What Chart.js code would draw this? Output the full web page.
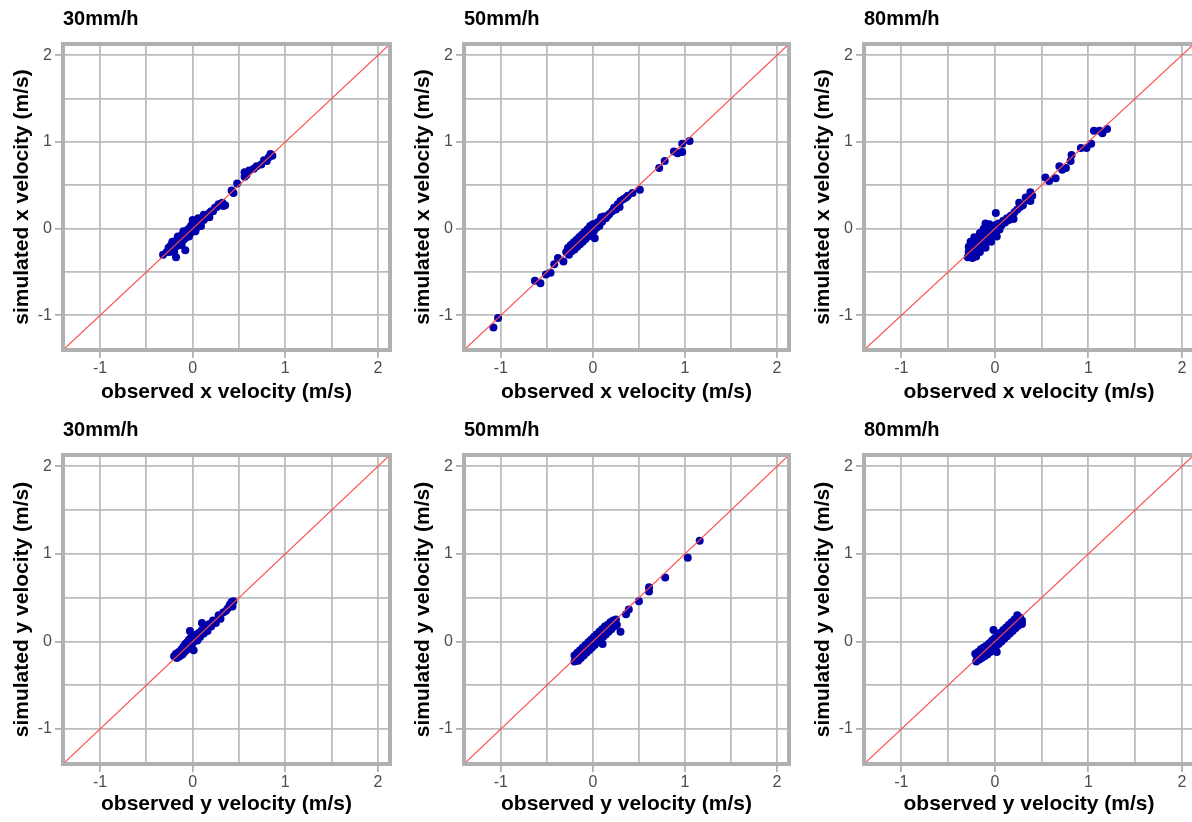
<!DOCTYPE html>
<html>
<head>
<meta charset="utf-8">
<script src="https://cdn.jsdelivr.net/npm/chart.js@4.4.1/dist/chart.umd.min.js"></script>
<style>
  body { margin: 0; background: #fff; overflow: hidden; width: 1192px; height: 822px; position: relative; }
  canvas { position: absolute; }
</style>
</head>
<body>
<canvas id="p1" width="400" height="410" style="left:0px;top:0px"></canvas>
<canvas id="p2" width="400" height="410" style="left:401px;top:0px"></canvas>
<canvas id="p3" width="400" height="410" style="left:801px;top:0px"></canvas>
<canvas id="p4" width="400" height="411" style="left:0px;top:411px"></canvas>
<canvas id="p5" width="400" height="411" style="left:401px;top:411px"></canvas>
<canvas id="p6" width="400" height="411" style="left:801px;top:411px"></canvas>
<script>
// rainfall intensities (panel titles)
const rates = ['30mm/h', '50mm/h', '80mm/h'];
const tickValues = [-1, -0.5, 0, 0.5, 1, 1.5, 2];
const axisMin = -1.4, axisMax = 2.13;
const oneToOne = [-2, 3];

// x velocity, observed vs simulated (m/s)
const obsX30 = [-0.28,-0.26,-0.25,-0.24,-0.23,-0.22,-0.21,-0.20,-0.19,-0.18,-0.17,-0.16,-0.15,-0.14,-0.13,-0.12,-0.11,-0.10,-0.09,-0.08,-0.07,-0.06,-0.05,-0.04,-0.03,-0.02,-0.01,0.00,0.00,0.01,0.02,0.03,0.04,0.05,0.06,0.08,0.10,0.12,0.14,0.16,0.18,0.18,0.20,0.22,0.24,0.26,0.28,0.30,0.33,0.35,0.32,-0.32,-0.18,-0.08,0.42,0.48,0.44,0.56,0.56,0.58,0.61,0.66,0.69,0.74,0.77,0.80,0.82,0.86,0.84,-0.22,-0.16,-0.10,0.06,0.12,-0.20,-0.12,-0.04,0.03,0.09];
const simX30 = [-0.27,-0.22,-0.27,-0.20,-0.25,-0.18,-0.24,-0.16,-0.21,-0.14,-0.20,-0.12,-0.18,-0.10,-0.16,-0.08,-0.14,-0.06,-0.12,-0.04,-0.10,-0.02,-0.08,0.00,-0.06,0.03,-0.04,0.06,0.10,-0.01,0.08,0.02,0.06,0.02,0.08,0.06,0.12,0.10,0.15,0.14,0.18,0.13,0.20,0.20,0.24,0.25,0.28,0.28,0.26,0.27,0.30,-0.30,-0.33,-0.25,0.44,0.52,0.41,0.65,0.60,0.62,0.67,0.69,0.72,0.74,0.79,0.78,0.82,0.84,0.86,-0.15,-0.09,-0.03,0.12,0.16,-0.27,-0.19,-0.09,-0.03,0.03];

const obsX50 = [-0.29,-0.27,-0.26,-0.24,-0.23,-0.21,-0.20,-0.18,-0.17,-0.15,-0.14,-0.12,-0.11,-0.09,-0.08,-0.06,-0.05,-0.03,-0.02,0.00,0.01,0.02,0.03,0.04,0.06,0.07,0.09,0.10,0.12,0.14,0.16,0.18,0.21,0.23,0.25,0.27,0.29,0.30,0.33,0.36,0.38,0.43,0.51,-1.08,-1.03,-0.63,-0.57,-0.51,-0.46,-0.42,-0.38,-0.32,0.72,0.78,0.88,0.92,0.97,0.97,1.05];
const simX50 = [-0.27,-0.22,-0.30,-0.19,-0.26,-0.16,-0.24,-0.13,-0.21,-0.10,-0.18,-0.07,-0.15,-0.04,-0.12,-0.01,-0.09,0.03,-0.06,0.05,-0.03,-0.11,0.06,0.01,0.08,0.03,0.13,0.08,0.14,0.12,0.15,0.17,0.20,0.24,0.22,0.28,0.25,0.32,0.34,0.36,0.38,0.41,0.45,-1.14,-1.03,-0.60,-0.63,-0.53,-0.51,-0.41,-0.34,-0.38,0.70,0.78,0.89,0.87,0.98,0.885,1.01];

const obsX80 = [-0.29,-0.28,-0.28,-0.27,-0.26,-0.25,-0.24,-0.23,-0.22,-0.21,-0.20,-0.20,-0.19,-0.18,-0.17,-0.16,-0.15,-0.14,-0.13,-0.12,-0.11,-0.10,-0.10,-0.09,-0.08,-0.07,-0.06,-0.05,-0.04,-0.03,-0.02,-0.01,0.00,0.01,0.01,0.02,0.04,0.05,0.07,0.09,0.11,0.13,0.15,0.17,0.20,0.21,0.24,0.26,0.27,0.30,0.33,0.35,0.38,0.38,0.40,0.54,0.58,0.65,0.69,0.72,0.76,0.81,0.82,0.92,0.98,1.03,1.06,1.12,1.15,1.20,-0.26,-0.22,-0.16,-0.12,-0.06,-0.24,-0.16,-0.10,-0.04,0.02];
const simX80 = [-0.33,-0.27,-0.21,-0.30,-0.24,-0.18,-0.31,-0.27,-0.20,-0.15,-0.32,-0.25,-0.18,-0.12,-0.22,-0.16,-0.10,-0.20,-0.13,-0.07,-0.17,-0.10,0.06,-0.04,-0.14,-0.07,-0.01,-0.11,-0.04,0.02,-0.08,-0.01,0.04,0.18,-0.05,0.02,0.06,-0.01,0.04,0.09,0.07,0.12,0.10,0.15,0.11,0.19,0.22,0.30,0.25,0.27,0.36,0.33,0.32,0.42,0.38,0.59,0.55,0.58,0.72,0.68,0.70,0.78,0.85,0.93,0.93,0.98,1.13,1.13,1.10,1.15,-0.15,-0.10,-0.05,0.00,0.05,-0.34,-0.27,-0.22,-0.15,-0.09];

// y velocity, observed vs simulated (m/s)
const obsY30 = [-0.20,-0.18,-0.17,-0.15,-0.14,-0.12,-0.11,-0.10,-0.09,-0.08,-0.07,-0.06,-0.05,-0.04,-0.03,-0.03,-0.02,0.00,0.01,0.01,0.02,0.04,0.05,0.07,0.08,0.10,0.10,0.12,0.14,0.16,0.18,0.20,0.22,0.25,0.28,0.30,0.33,0.36,0.38,0.40,0.42,0.43,0.44];
const simY30 = [-0.17,-0.14,-0.19,-0.12,-0.17,-0.09,-0.15,-0.06,-0.12,-0.03,-0.10,-0.01,-0.08,0.02,0.12,-0.05,0.04,-0.02,-0.10,0.07,0.02,0.08,0.01,0.10,0.05,0.13,0.21,0.09,0.16,0.12,0.20,0.17,0.24,0.21,0.30,0.26,0.33,0.35,0.38,0.42,0.45,0.40,0.46];

const obsY50 = [-0.20,-0.20,-0.18,-0.17,-0.16,-0.15,-0.14,-0.13,-0.12,-0.11,-0.10,-0.09,-0.08,-0.07,-0.06,-0.05,-0.04,-0.03,-0.02,-0.01,0.00,0.01,0.02,0.03,0.04,0.05,0.06,0.07,0.08,0.09,0.10,0.105,0.11,0.12,0.13,0.14,0.15,0.16,0.17,0.18,0.19,0.20,0.21,0.22,0.23,0.24,0.25,0.26,0.30,0.36,0.39,0.50,0.61,0.61,0.785,1.03,1.16];
const simY50 = [-0.23,-0.16,-0.20,-0.13,-0.22,-0.17,-0.10,-0.19,-0.13,-0.07,-0.16,-0.10,-0.04,-0.13,-0.07,-0.01,-0.10,-0.04,0.02,-0.07,-0.01,0.05,-0.04,0.02,0.08,-0.01,0.05,0.11,0.02,0.08,0.14,-0.03,0.05,0.11,0.17,0.08,0.14,0.19,0.11,0.17,0.22,0.14,0.20,0.24,0.17,0.22,0.25,0.19,0.11,0.31,0.365,0.46,0.62,0.57,0.73,0.955,1.15];

const obsY80 = [-0.21,-0.20,-0.19,-0.18,-0.17,-0.16,-0.15,-0.14,-0.13,-0.12,-0.11,-0.10,-0.09,-0.08,-0.07,-0.06,-0.05,-0.04,-0.03,-0.015,-0.02,-0.01,0.00,0.01,0.02,0.02,0.03,0.04,0.05,0.06,0.07,0.08,0.09,0.10,0.11,0.12,0.13,0.14,0.15,0.16,0.17,0.18,0.19,0.20,0.21,0.22,0.23,0.24,0.24,0.25,0.26,0.27,0.28,0.29,0.29];
const simY80 = [-0.14,-0.23,-0.18,-0.12,-0.21,-0.15,-0.09,-0.19,-0.13,-0.07,-0.17,-0.11,-0.05,-0.15,-0.09,-0.02,-0.12,-0.06,0.01,0.13,-0.09,-0.03,0.04,-0.06,-0.12,0.00,0.07,-0.03,0.03,0.10,0.00,0.06,0.13,0.03,0.09,0.16,0.06,0.12,0.19,0.09,0.15,0.22,0.12,0.18,0.25,0.15,0.21,0.28,0.30,0.18,0.24,0.27,0.21,0.20,0.24];

const FONT = '"Liberation Sans", Arial, sans-serif';
const GRID = '#BDBDBD';
const FRAME = '#B0B0B0';

// grey frame round the panel, like ggplot's panel.border
const panelBorder = {
  id: 'panelBorder',
  afterDraw(chart) {
    const a = chart.chartArea, c = chart.ctx;
    c.save();
    c.strokeStyle = FRAME;
    c.lineWidth = 4;
    c.strokeRect(a.left, a.top, a.right - a.left, a.bottom - a.top);
    c.restore();
  }
};

function tickMarkColor(c) {
  return c.tick && Number.isInteger(c.tick.value) ? FRAME : 'rgba(0,0,0,0)';
}

function makePanel(id, title, obs, sim, comp, axisH, padRight) {
  const pts = obs.map((x, i) => ({ x: x, y: sim[i] }));
  new Chart(document.getElementById(id), {
    type: 'scatter',
    data: {
      datasets: [
        { type: 'line', data: oneToOne.map(v => ({ x: v, y: v })), borderColor: '#FF4A4A',
          borderWidth: 1.2, pointRadius: 0, fill: false },
        { data: pts, backgroundColor: '#0000AA', borderColor: '#0000AA', borderWidth: 0,
          pointRadius: 4, pointHoverRadius: 4 }
      ]
    },
    options: {
      responsive: false,
      animation: false,
      devicePixelRatio: 1,
      layout: { padding: { left: 0, right: padRight, top: 0, bottom: 0 } },
      plugins: {
        legend: { display: false },
        tooltip: { enabled: false },
        title: {
          display: true, text: title, align: 'start', fullSize: false, color: '#000',
          font: { family: FONT, size: 20, weight: 'bold' },
          padding: { top: 7, bottom: 13 }
        }
      },
      scales: {
        x: {
          type: 'linear', min: axisMin, max: axisMax,
          afterBuildTicks: s => { s.ticks = tickValues.map(v => ({ value: v })); },
          afterFit: s => { s.height = axisH; },
          grid: { color: GRID, lineWidth: 1.8, tickLength: 8, tickColor: tickMarkColor, tickWidth: 1.8 },
          border: { display: false },
          ticks: { callback: v => Number.isInteger(v) ? String(v) : '', color: '#4D4D4D',
                   font: { family: FONT, size: 16 }, padding: 1, maxRotation: 0, autoSkip: false },
          title: { display: true, text: 'observed ' + comp + ' velocity (m/s)', color: '#000',
                   font: { family: FONT, size: 21, weight: 'bold' }, padding: { top: 0, bottom: 5 } }
        },
        y: {
          type: 'linear', min: axisMin, max: axisMax,
          afterBuildTicks: s => { s.ticks = tickValues.map(v => ({ value: v })); },
          afterFit: s => { s.width = 63; },
          grid: { color: GRID, lineWidth: 1.8, tickLength: 8, tickColor: tickMarkColor, tickWidth: 1.8 },
          border: { display: false },
          ticks: { callback: v => Number.isInteger(v) ? String(v) : '', color: '#4D4D4D',
                   font: { family: FONT, size: 16 }, padding: 3, autoSkip: false },
          title: { display: true, text: 'simulated ' + comp + ' velocity (m/s)', color: '#000',
                   font: { family: FONT, size: 21, weight: 'bold' }, padding: { top: 10, bottom: 0 } }
        }
      }
    },
    plugins: [panelBorder]
  });
}

makePanel('p1', rates[0], obsX30, simX30, 'x', 60, 10);
makePanel('p2', rates[1], obsX50, simX50, 'x', 60, 12);
makePanel('p3', rates[2], obsX80, simX80, 'x', 60, 7);
makePanel('p4', rates[0], obsY30, simY30, 'y', 58, 10);
makePanel('p5', rates[1], obsY50, simY50, 'y', 58, 12);
makePanel('p6', rates[2], obsY80, simY80, 'y', 58, 7);
</script>
</body>
</html>
